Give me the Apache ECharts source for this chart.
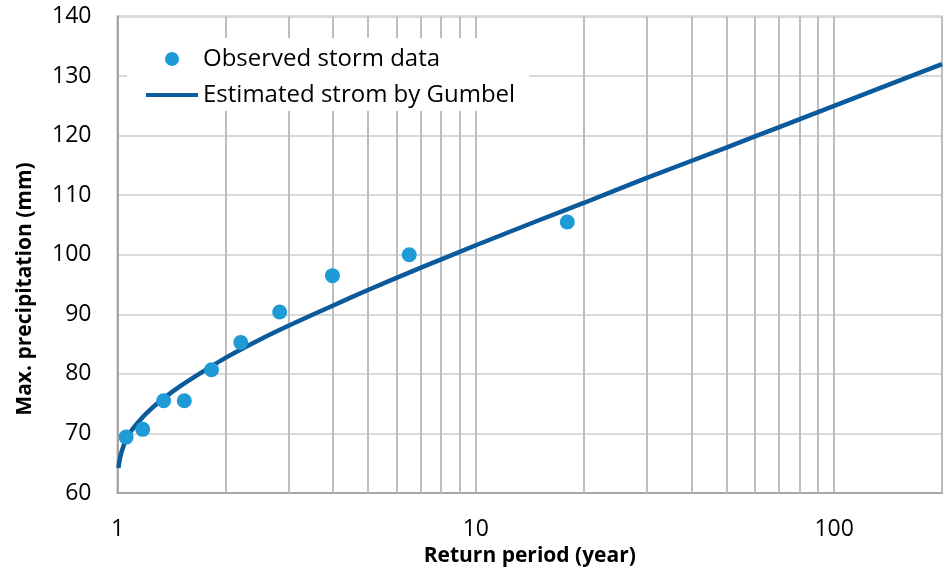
<!DOCTYPE html>
<html>
<head>
<meta charset="utf-8">
<script src="https://cdn.jsdelivr.net/npm/echarts@6/dist/echarts.min.js"></script>
<style>
html,body{margin:0;padding:0;background:#fff;}
#chart{width:945px;height:572px;}
</style>
</head>
<body>
<div id="chart"></div>
<script>
// Observed storm data (return period in years, max precipitation in mm)
const obsT = [1.057, 1.176, 1.345, 1.536, 1.83, 2.208, 2.835, 3.98, 6.52, 18.0];
const obsP = [69.4, 70.7, 75.5, 75.5, 80.7, 85.3, 90.4, 96.5, 100.0, 105.5];

// Estimated storm by Gumbel
const gumbelT = [1.006, 1.01, 1.02, 1.03, 1.05, 1.07, 1.1, 1.15, 1.2, 1.3, 1.4, 1.5, 1.7, 2, 2.5, 3, 4, 5, 7, 10, 15, 20, 30, 50, 70, 100, 150, 200];
const gumbelP = [64.2, 65.0, 66.3, 67.2, 68.6, 69.6, 70.7, 72.1, 73.3, 75.2, 76.7, 78.0, 80.1, 82.7, 85.8, 88.1, 91.5, 94.1, 97.8, 101.6, 105.8, 108.7, 112.9, 118.0, 121.4, 125.0, 129.1, 132.0];

// Axis ticks
const xTickLabels = [1, 10, 100];
const xMinorGrid = [2, 3, 4, 5, 6, 7, 8, 9, 20, 30, 40, 50, 60, 70, 80, 90];
const yTicks = [60, 70, 80, 90, 100, 110, 120, 130, 140];

const FONT = '"Open Sans", "Noto Sans", sans-serif';

const chart = echarts.init(document.getElementById('chart'), null, {renderer: 'canvas'});
const option = {
  animation: false,
  backgroundColor: '#ffffff',
  grid: {
    left: 117.5, right: 1, top: 16.5, bottom: 78.5,
    show: true, borderColor: '#b8b8b8', borderWidth: 2, backgroundColor: 'transparent'
  },
  xAxis: {
    type: 'log', logBase: 10, min: 1, max: 200,
    name: 'Return period (year)',
    nameLocation: 'middle', nameGap: 48,
    nameTextStyle: {fontFamily: FONT, fontWeight: 'bold', fontSize: 21, color: '#000'},
    axisLine: {show: true, lineStyle: {color: '#a6a6a6', width: 2}},
    axisTick: {show: false},
    axisLabel: {
      fontFamily: FONT, fontSize: 23, color: '#000', margin: 25,
      formatter: function (v) {
        for (const t of xTickLabels) { if (Math.abs(v - t) < 1e-6 * t) return String(t); }
        return '';
      }
    },
    splitLine: {show: true, lineStyle: {color: '#bdbdbd', width: 2}}
  },
  yAxis: {
    type: 'value', min: yTicks[0], max: yTicks[yTicks.length - 1], interval: 10,
    axisLine: {show: true, lineStyle: {color: '#a6a6a6', width: 2}},
    axisTick: {show: false},
    axisLabel: {fontFamily: FONT, fontSize: 23, color: '#000', margin: 26},
    splitLine: {show: true, lineStyle: {color: '#d9d9d9', width: 2}}
  },
  legend: {
    orient: 'vertical', left: 127, top: 38,
    padding: [9, 14, 4, 19], backgroundColor: '#ffffff',
    itemWidth: 52, itemHeight: 14, itemGap: 12,
    data: [
      {name: 'Observed storm data', icon: 'circle'},
      {name: 'Estimated strom by Gumbel', icon: 'path://M0,0H52V4H0Z'}
    ],
    textStyle: {fontFamily: FONT, fontSize: 24, color: '#000'},
    z: 5
  },
  graphic: [
    {
      type: 'text', z: 5, silent: true,
      x: 25, y: 289, rotation: Math.PI / 2,
      style: {
        text: 'Max. precipitation (mm)',
        font: 'bold 21px ' + FONT,
        fill: '#000', align: 'center', verticalAlign: 'middle'
      }
    }
  ],
  series: [
    {
      name: 'minor-grid', type: 'line', data: [], z: 1, silent: true,
      markLine: {
        z: 1, silent: true, symbol: ['none', 'none'], animation: false,
        label: {show: false},
        lineStyle: {color: '#bdbdbd', width: 2, type: 'solid'},
        emphasis: {disabled: true},
        data: xMinorGrid.map(v => ({xAxis: v}))
      }
    },
    {
      name: 'Estimated strom by Gumbel', type: 'line', z: 3,
      data: gumbelT.map((t, i) => [t, gumbelP[i]]),
      symbol: 'none', smooth: 0.2,
      lineStyle: {color: '#0a5a9c', width: 4.5},
      itemStyle: {color: '#0a5a9c'}
    },
    {
      name: 'Observed storm data', type: 'scatter', z: 4,
      data: obsT.map((t, i) => [t, obsP[i]]),
      symbol: 'circle', symbolSize: 15,
      itemStyle: {color: '#1e9bd7', opacity: 1}
    }
  ]
};
chart.setOption(option);
</script>
</body>
</html>
